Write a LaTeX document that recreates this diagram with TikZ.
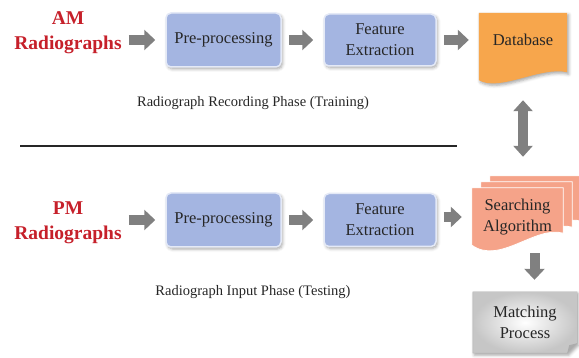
\documentclass[tikz,border=0pt]{standalone}
\usepackage{fontspec}
\setmainfont{Liberation Serif}
\usetikzlibrary{arrows.meta, shadows.blur, backgrounds}

\definecolor{boxblue}{RGB}{164,181,225}
\definecolor{dborange}{RGB}{247,166,76}
\definecolor{salmon}{RGB}{245,163,137}
\definecolor{labelred}{RGB}{198,32,42}
\definecolor{arrowgray}{RGB}{128,128,128}

\begin{document}
\begin{tikzpicture}[x = 1pt, y = -1pt,
	radio/.style = {align = center, inner sep = 0pt, text = labelred, font = \fontsize{19.5}{25}\selectfont\bfseries},
	stage/.style = {rounded corners = 5pt, fill = boxblue, draw = white!70!boxblue, line width = 1.5pt, align = center, text = black!85,
		font = \fontsize{16.5}{21}\selectfont, blur shadow = {shadow xshift = 1.5pt, shadow yshift = -2pt, shadow blur radius = 3pt, shadow opacity = 35}},
	sheet/.style = {align = center, text = black!85, font = \fontsize{16.5}{20.5}\selectfont},
	phase/.style = {text = black!85, font = \fontsize{14.5}{17}\selectfont},
	soft/.style = {blur shadow = {shadow xshift = 1.5pt, shadow yshift = -2pt, shadow blur radius = 3pt, shadow opacity = 35}},
	flow/.style = {draw = arrowgray, line width = 10pt, -{Triangle[length = 11pt, width = 20pt]}, shorten <= 7pt, shorten >= 10pt}]

	\useasboundingbox (0,0) rectangle (579,358);

	% Recording phase (training)

	\node [radio] (am) at (68,33) {AM\\Radiographs};
	\node [stage, minimum width = 115pt, minimum height = 54pt] (pre1) at (223.5,40) {Pre-processing};
	\node [stage, minimum width = 112pt, minimum height = 52pt] (fe1) at (380,40) {Feature\\Extraction};
	\node [sheet, minimum width = 88pt, minimum height = 54pt] (db) at (523,40) {Database};
	\node [phase] (train) at (253,103) {Radiograph Recording Phase (Training)};

	% Input phase (testing)

	\node [radio] (pm) at (68,223) {PM\\Radiographs};
	\node [stage, minimum width = 115pt, minimum height = 54pt] (pre2) at (223.5,220) {Pre-processing};
	\node [stage, minimum width = 112pt, minimum height = 53pt] (fe2) at (380,220) {Feature\\Extraction};
	\node [sheet, minimum width = 91pt, minimum height = 58pt] (sa) at (517.5,217) {Searching\\Algorithm};
	\node [sheet, minimum width = 104pt, minimum height = 61pt] (mp) at (525,322.5) {Matching\\Process};
	\node [phase] (test) at (253,292) {Radiograph Input Phase (Testing)};

	% Sheets behind the text

	\begin{scope}[on background layer]
		\fill [dborange, soft] (db.north west) -- (db.north east) -- ([yshift = -5pt]db.south east)
			.. controls ([xshift = -27pt, yshift = 1pt]db.south east) and ([xshift = 21pt, yshift = -25pt]db.south west) .. ([yshift = -13pt]db.south west) -- cycle;

		\foreach \dx/\dy in {18/12, 9/6, 0/0}
			\filldraw [fill = salmon, draw = white, line width = 0.8pt, transform canvas = {xshift = \dx pt, yshift = \dy pt}]
				(sa.north west) -- (sa.north east) -- ([yshift = 13pt]sa.south east)
				.. controls ([xshift = -28pt, yshift = 21pt]sa.south east) and ([xshift = 28pt, yshift = -19pt]sa.south west) .. ([yshift = 1pt]sa.south west) -- cycle;

		\shadedraw [inner color = white, outer color = gray!45, draw = gray!60, soft] (mp.north west) -- (mp.north east)
			-- ([yshift = 10pt]mp.south east) -- ([xshift = -10pt]mp.south east) -- (mp.south west) -- cycle;
		\fill [gray!65] ([yshift = 10pt]mp.south east) -- ([xshift = -10pt]mp.south east) -- ([xshift = -8pt, yshift = 8pt]mp.south east) -- cycle;
	\end{scope}

	% Block arrows

	\foreach \a/\b in {am/pre1, pre1/fe1, fe1/db, pm/pre2, pre2/fe2, fe2/sa}
		\draw [flow] (\a.east |- \b) -- (\b.west);

	\draw [flow, shorten >= 12pt] ([xshift = 17pt]sa.south) -- ([xshift = 17pt]sa.south |- mp.north);
	\draw [flow, {Triangle[length = 11pt, width = 19pt]}-{Triangle[length = 11pt, width = 19pt]}, shorten <= 33pt, shorten >= 31pt]
		(db.south) -- (db.south |- sa.north);

	% Divider between the two phases

	\draw [line width = 1.8pt, black!85] (20,146) -- (457,146);

\end{tikzpicture}
\end{document}
